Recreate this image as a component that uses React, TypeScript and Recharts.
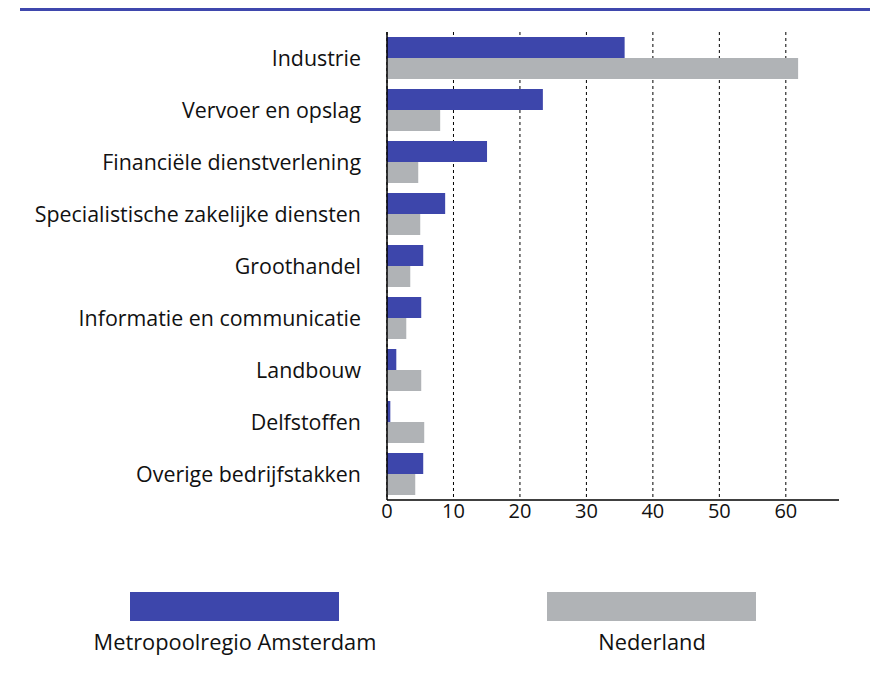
import React from "react";
import { BarChart, Bar, XAxis, YAxis, CartesianGrid } from "recharts";

const categories = [
  "Industrie",
  "Vervoer en opslag",
  "Financiële dienstverlening",
  "Specialistische zakelijke diensten",
  "Groothandel",
  "Informatie en communicatie",
  "Landbouw",
  "Delfstoffen",
  "Overige bedrijfstakken",
];
const amsterdam = [35.75, 23.45, 15.05, 8.75, 5.45, 5.15, 1.4, 0.5, 5.45];
const nederland = [61.85, 8.0, 4.7, 5.0, 3.5, 2.9, 5.15, 5.6, 4.25];
const xTicks = [0, 10, 20, 30, 40, 50, 60];
const seriesNames = ["Metropoolregio Amsterdam", "Nederland"];

const BLUE = "#3d46ab";
const GRAY = "#b0b3b6";
const FONT = "'Open Sans', 'Noto Sans', sans-serif";

const data = categories.map((c, i) => ({
  name: c,
  ams: amsterdam[i],
  nl: nederland[i],
}));

export default function App() {
  return (
    <div style={{ position: "absolute", left: 0, top: 0, width: 870, height: 675, background: "#fff", fontFamily: FONT }}>
      <div style={{ position: "absolute", left: 20, top: 8, width: 850, height: 3, background: "#3f47ad" }} />
      <BarChart
        width={870}
        height={540}
        data={data}
        layout="vertical"
        margin={{ top: 32, right: 31, bottom: 10, left: 0 }}
        barGap={0}
        barCategoryGap={5}
      >
        <CartesianGrid
          horizontal={false}
          vertical={true}
          stroke="#000"
          strokeDasharray="3 3"
          syncWithTicks={true}
        />
        <XAxis
          type="number"
          domain={[0, 68]}
          ticks={xTicks}
          allowDataOverflow
          axisLine={{ stroke: "#000", strokeWidth: 1.5 }}
          tickLine={false}
          tickSize={0}
          tickMargin={4}
          height={30}
          tick={{ fill: "#111", fontSize: 20, fontFamily: FONT, fontWeight: 400 }}
        />
        <YAxis
          type="category"
          dataKey="name"
          width={387}
          axisLine={{ stroke: "#000", strokeWidth: 1.5 }}
          tickLine={false}
          tickSize={0}
          tickMargin={26}
          interval={0}
          tick={{ fill: "#111", fontSize: 21.4, fontFamily: FONT, fontWeight: 400 }}
        />
        <Bar dataKey="ams" name={seriesNames[0]} fill={BLUE} isAnimationActive={false} />
        <Bar dataKey="nl" name={seriesNames[1]} fill={GRAY} isAnimationActive={false} />
      </BarChart>
      <div style={{ position: "absolute", left: 130, top: 592, width: 209, height: 29, background: BLUE }} />
      <div style={{ position: "absolute", left: 547, top: 592, width: 209, height: 29, background: GRAY }} />
      <div style={{ position: "absolute", left: 35, top: 627, width: 400, textAlign: "center", fontSize: 21.8, fontWeight: 400, color: "#111" }}>
        {seriesNames[0]}
      </div>
      <div style={{ position: "absolute", left: 452, top: 627, width: 400, textAlign: "center", fontSize: 21.8, fontWeight: 400, color: "#111" }}>
        {seriesNames[1]}
      </div>
    </div>
  );
}
